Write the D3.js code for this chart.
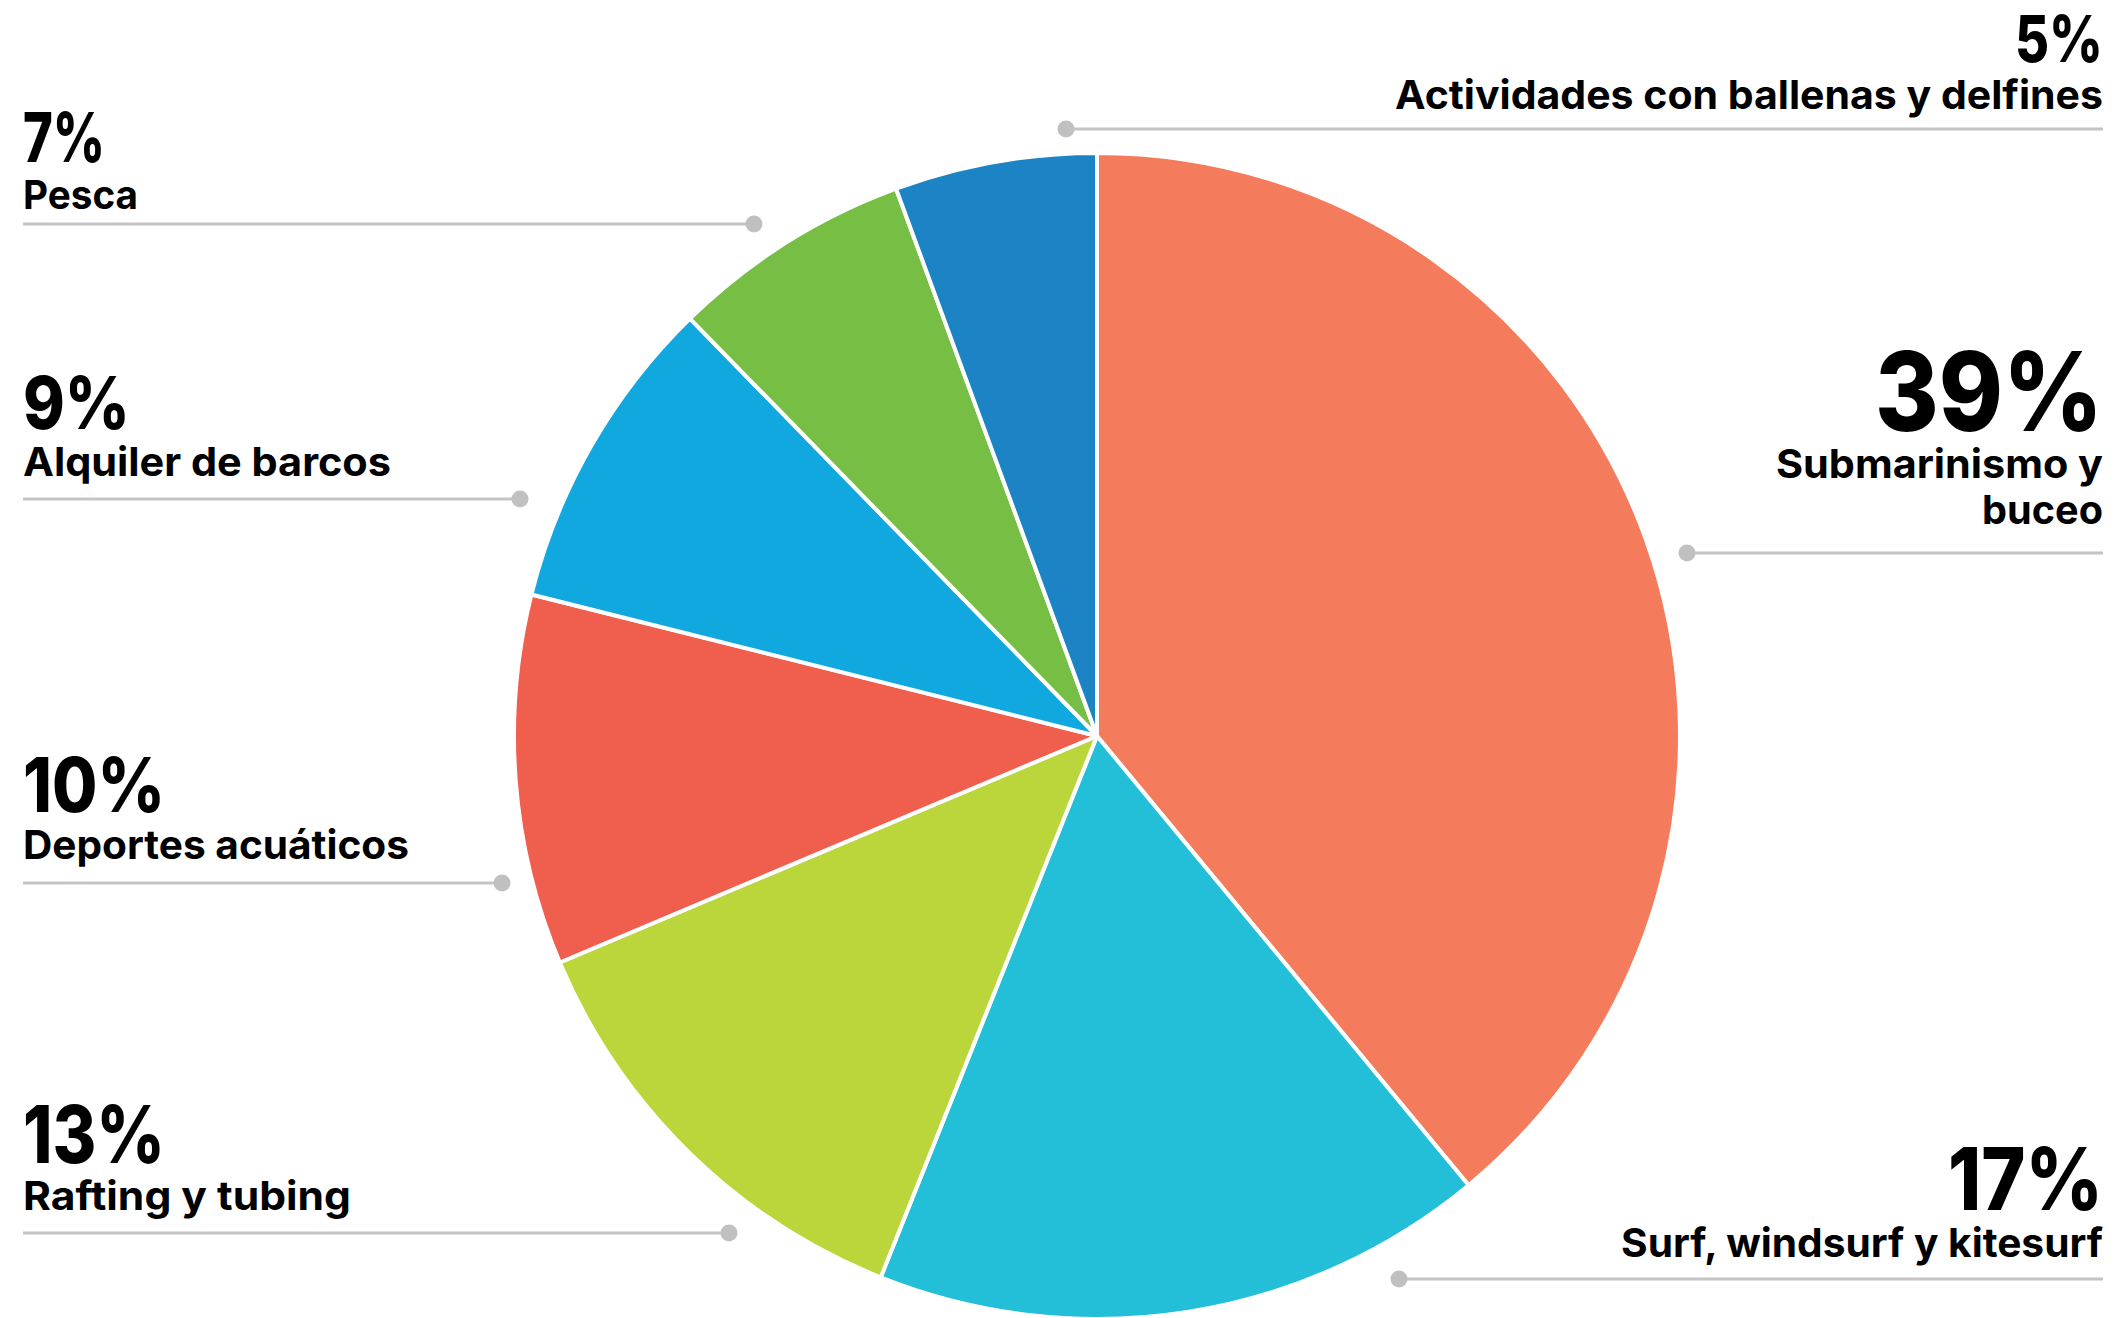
<!DOCTYPE html>
<html>
<head>
<meta charset="utf-8">
<script src="https://cdn.jsdelivr.net/npm/d3@7"></script>
<style>
  html, body { margin: 0; padding: 0; background: #fff; }
  svg { display: block; }
  text { font-family: Inter, "Open Sans", sans-serif; font-weight: 700; fill: #000; }
  text.pct { font-weight: 800; }
</style>
</head>
<body>
<svg width="2116" height="1318"></svg>
<script>
// data
var categories = ["Submarinismo y buceo", "Surf, windsurf y kitesurf", "Rafting y tubing",
	"Deportes acuáticos", "Alquiler de barcos", "Pesca", "Actividades con ballenas y delfines"];
var shares = [39, 17.05, 12.6, 10.25, 8.8, 6.7, 5.6];
var pctLabels = ["39%", "17%", "13%", "10%", "9%", "7%", "5%"];
var colors = ["#f47c5c", "#23bed8", "#bbd63a", "#f05e4e", "#11a8e0", "#77be44", "#1c84c4"];
var labelLines = [["Submarinismo y", "buceo"], ["Surf, windsurf y kitesurf"], ["Rafting y tubing"],
	["Deportes acuáticos"], ["Alquiler de barcos"], ["Pesca"], ["Actividades con ballenas y delfines"]];

// label placement (annotation layout, not data)
var layout = [
	{side: "right", pctY: 431, lineY: 553, dotX: 1687, pctW: 228, widths: [327, 121]},
	{side: "right", pctY: 1210, lineY: 1279, dotX: 1399, pctW: 155, widths: [482]},
	{side: "left", pctY: 1163, lineY: 1233, dotX: 729, pctW: 142, widths: [328]},
	{side: "left", pctY: 812, lineY: 883, dotX: 502, pctW: 142, widths: [386]},
	{side: "left", pctY: 429, lineY: 499, dotX: 520, pctW: 107, widths: [368]},
	{side: "left", pctY: 162, lineY: 224, dotX: 754, pctW: 82, widths: [115]},
	{side: "right", pctY: 62, lineY: 129, dotX: 1066, pctW: 88, widths: [708]}
];

var svg = d3.select("svg"),
	cx = 1097, cy = 736, radius = 583,
	leftX = 23, rightX = 2103;

var data = categories.map(function(c, i){
	return {name: c, value: shares[i], pct: +pctLabels[i].replace("%", ""), label: pctLabels[i],
		color: colors[i], lines: labelLines[i], pos: layout[i]};
});

var pie = d3.pie().sort(null).value(function(d){ return d.value; });
var arc = d3.arc().innerRadius(0).outerRadius(radius);

var g = svg.append("g")
	.attr("transform", "translate(" + cx + "," + cy + ")");

g.selectAll(".slice")
	.data(pie(data))
	.enter().append("path")
	.attr("class", "slice")
	.attr("d", arc)
	.attr("fill", function(d){ return d.data.color; })
	.attr("stroke", "#fff")
	.attr("stroke-width", 4)
	.attr("stroke-linejoin", "round");

// percentage cap height grows with the share
var capScale = d3.scaleSqrt().domain([5, 39]).range([47, 80]);
var capRatio = 0.727;

var labels = svg.selectAll(".label")
	.data(data)
	.enter().append("g")
	.attr("class", "label");

labels.append("line")
	.attr("x1", function(d){ return d.pos.side == "left" ? leftX : d.pos.dotX; })
	.attr("x2", function(d){ return d.pos.side == "left" ? d.pos.dotX : rightX; })
	.attr("y1", function(d){ return d.pos.lineY; })
	.attr("y2", function(d){ return d.pos.lineY; })
	.attr("stroke", "#c4c4c4")
	.attr("stroke-width", 3);

labels.append("circle")
	.attr("cx", function(d){ return d.pos.dotX; })
	.attr("cy", function(d){ return d.pos.lineY; })
	.attr("r", 8.5)
	.attr("fill", "#c0c0c0");

labels.append("text")
	.attr("class", "pct")
	.attr("x", function(d){ return d.pos.side == "left" ? leftX : rightX; })
	.attr("y", function(d){ return d.pos.pctY; })
	.attr("text-anchor", function(d){ return d.pos.side == "left" ? "start" : "end"; })
	.attr("textLength", function(d){ return d.pos.pctW; })
	.attr("lengthAdjust", "spacingAndGlyphs")
	.style("font-size", function(d){ return (capScale(d.pct) / capRatio) + "px"; })
	.text(function(d){ return d.label; });

labels.each(function(d){
	var sel = d3.select(this);
	d.lines.forEach(function(line, i){
		sel.append("text")
			.attr("x", d.pos.side == "left" ? leftX : rightX)
			.attr("y", d.pos.pctY + 47 + i * 46)
			.attr("text-anchor", d.pos.side == "left" ? "start" : "end")
			.attr("textLength", d.pos.widths[i])
			.attr("lengthAdjust", "spacingAndGlyphs")
			.style("font-size", "40px")
			.text(line);
	});
});
</script>
</body>
</html>
